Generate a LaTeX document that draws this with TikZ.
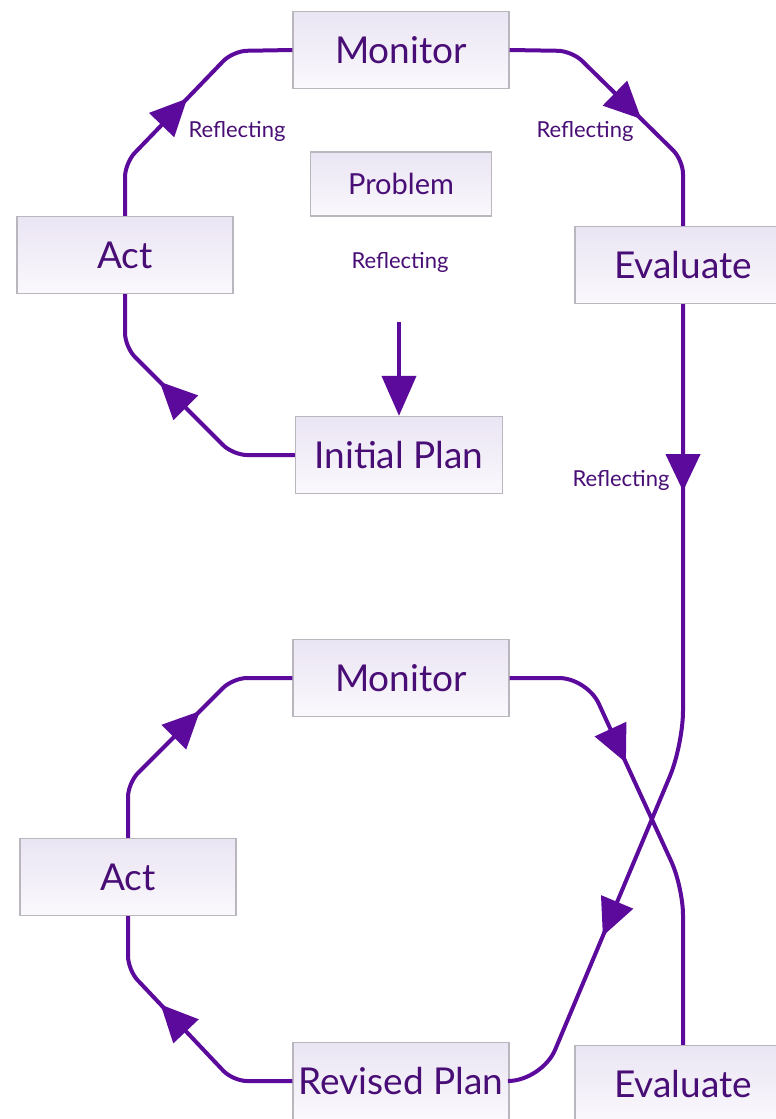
\documentclass[tikz,border=0pt]{standalone}
\usepackage{fontspec}
\setmainfont{Lato}
\usetikzlibrary{arrows.meta,decorations.markings}
\definecolor{linecol}{RGB}{92,10,156}
\definecolor{txtcol}{RGB}{72,14,118}
\definecolor{boxtop}{RGB}{234,229,243}
\definecolor{boxbot}{RGB}{251,248,253}
\definecolor{boxline}{RGB}{185,182,190}
\tikzset{
  box/.style={draw=boxline, line width=1.3pt, top color=boxtop, bottom color=boxbot,
    text=txtcol, inner sep=0pt, minimum width=216pt, minimum height=77pt,
    font=\fontsize{37}{40}\selectfont},
  smalltext/.style={text=txtcol, inner sep=0pt, font=\fontsize{22}{24}\selectfont},
  link/.style={draw=linecol, color=linecol, line width=4pt, rounded corners=14pt},
  arr/.style={postaction={decorate, decoration={markings,
    mark=at position #1 with {\arrow[linecol]{Triangle[length=37pt,width=34pt]}}}}},
}
\begin{document}
\begin{tikzpicture}[x=1pt,y=-1pt]
\useasboundingbox (0,0) rectangle (776,1119);
\fill[white] (0,0) rectangle (776,1119);
\clip (0,0) rectangle (776,1119);

% nodes
\node[box] (mon1) at (401,50) {Monitor};
\node[box, minimum width=181pt, minimum height=64pt, font=\fontsize{29}{30}\selectfont] (prob) at (401,184) {Problem};
\node[smalltext] (refl0) at (400,262) {Reflecting};
\coordinate (pstart) at (399,322);
\node[box, minimum width=207pt] (ip) at (399,455) {Initial Plan};
\node[box] (act1) at (125,255) {Act};
\node[box] (eval1) at (683,265) {Evaluate};
\node[smalltext] (refl1) at (237,131) {Reflecting};
\node[smalltext] (refl2) at (585,131) {Reflecting};
\node[smalltext] (refl3) at (621,480) {Reflecting};

\node[box] (mon2) at (401,678) {Monitor};
\node[box] (act2) at (128,877) {Act};
\node[box] (rp) at (401,1081) {Revised Plan};
\node[box] (eval2) at (683,1084) {Evaluate};

% connectors, upper cycle
\draw[link, arr=141pt] (act1.north) -- (125,163) -- (233,51) -- (mon1.west);
\draw[link, arr=158pt] (mon1.east) -- (572,51) -- (683,160) -- (eval1.north);
\draw[link, arr=164pt] (ip.west) -- (233,455) -- (125,347) -- (act1.south);
\draw[draw=linecol, line width=4pt, -{Triangle[length=40pt,width=34pt]}, color=linecol] (pstart) -- (ip.north);

% long connector
\draw[link, rounded corners=34pt, arr=187pt, arr=647pt] (eval1.south) -- (683,745) -- (542,1081) -- (rp.east);

% lower cycle
\draw[link, arr=155pt] (act2.north) -- (128,783) -- (233,678) -- (mon2.west);
\draw[link, arr=163pt] (rp.west) -- (233,1081) -- (128,970) -- (act2.south);
\draw[link, rounded corners=28pt, arr=164pt] (mon2.east) -- (587,678) -- (683,887) -- (eval2.north);
\end{tikzpicture}
\end{document}
